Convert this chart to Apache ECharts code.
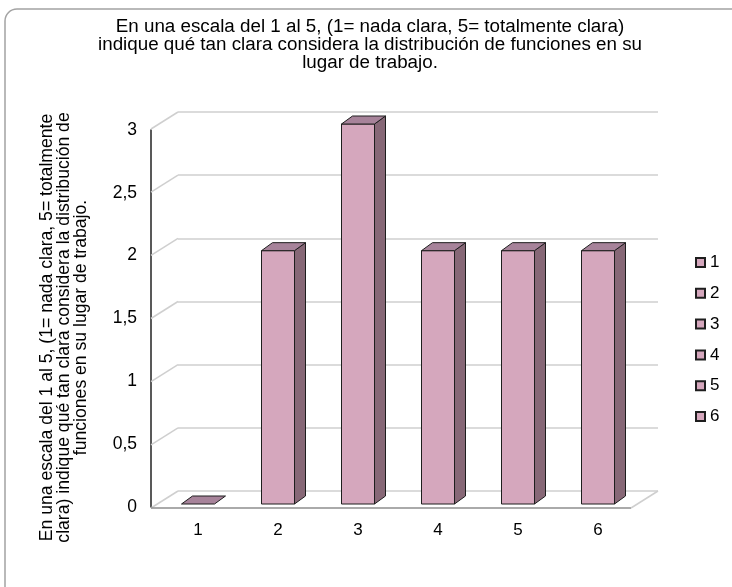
<!DOCTYPE html>
<html>
<head>
<meta charset="utf-8">
<script src="https://cdn.jsdelivr.net/npm/echarts@6/dist/echarts.min.js"></script>
<style>
  html, body { margin: 0; padding: 0; background: #fff; }
  #chart { width: 732px; height: 587px; }
</style>
</head>
<body>
<div id="chart"></div>
<script>
// Chart text and data
const titleLines = [
  'En una escala del 1 al 5, (1= nada clara, 5= totalmente clara)',
  'indique qué tan clara considera la distribución de funciones en su',
  'lugar de trabajo.'
];
const axisNameLines = [
  'En una escala del 1 al 5, (1= nada clara, 5= totalmente',
  'clara) indique qué tan clara considera la distribución de',
  'funciones en su lugar de trabajo.'
];
const categories = ['1', '2', '3', '4', '5', '6'];
const values = [0, 2, 3, 2, 2, 2];
const yTicks = [0, 0.5, 1, 1.5, 2, 2.5, 3];

// Styling
const FONT = '"Liberation Sans", Arial, sans-serif';
const FACE = '#d5a7bd', SIDE = '#876877', TOP = '#a7839a', EDGE = '#1e1e1e';
const BAR_W = 33;
const DEPTH_X = 11, DEPTH_Y = 8;   // extrusion of each column
const WALL_X = 27, WALL_Y = 17;    // depth of the floor and side wall
const GRID_COLOR = '#cfcfcf';

// One extruded column: front face, right side and top
function renderColumn(params, api) {
  const x = api.value(0), v = api.value(1);
  const base = api.coord([x, 0]);
  const top = api.coord([x, v]);
  const l = base[0] - BAR_W / 2, r = base[0] + BAR_W / 2;
  const children = [];
  if (v > 0) {
    children.push({
      type: 'rect',
      shape: { x: l, y: top[1], width: BAR_W, height: base[1] - top[1] },
      style: { fill: FACE, stroke: EDGE, lineWidth: 1 }
    });
    children.push({
      type: 'polygon',
      shape: { points: [[r, base[1]], [r, top[1]], [r + DEPTH_X, top[1] - DEPTH_Y], [r + DEPTH_X, base[1] - DEPTH_Y]] },
      style: { fill: SIDE, stroke: EDGE, lineWidth: 1 }
    });
  }
  children.push({
    type: 'polygon',
    shape: { points: [[l, top[1]], [r, top[1]], [r + DEPTH_X, top[1] - DEPTH_Y], [l + DEPTH_X, top[1] - DEPTH_Y]] },
    style: { fill: TOP, stroke: EDGE, lineWidth: 1 }
  });
  return { type: 'group', children };
}

// Side wall diagonals at each tick, plus the floor's front and right edges
function renderWalls(params, api) {
  const v = api.value(0);
  const p = api.coord([0, v]);
  const children = [{
    type: 'line',
    shape: { x1: p[0] - WALL_X, y1: p[1] + WALL_Y, x2: p[0], y2: p[1] },
    style: { stroke: GRID_COLOR, lineWidth: 1.5 }
  }];
  if (v === 0) {
    const q = api.coord([1, 0]);
    children.push({
      type: 'line',
      shape: { x1: p[0] - WALL_X, y1: p[1] + WALL_Y, x2: q[0] - WALL_X, y2: q[1] + WALL_Y },
      style: { stroke: '#8e8e8e', lineWidth: 1.5 }
    });
    children.push({
      type: 'line',
      shape: { x1: q[0] - WALL_X, y1: q[1] + WALL_Y, x2: q[0], y2: q[1] },
      style: { stroke: GRID_COLOR, lineWidth: 1.5 }
    });
  }
  return { type: 'group', children };
}

const columnSeries = categories.map((name, i) => ({
  type: 'custom',
  name: name,
  xAxisIndex: 2,
  yAxisIndex: 2,
  renderItem: renderColumn,
  encode: { x: 0, y: 1 },
  itemStyle: { color: FACE, borderColor: EDGE, borderWidth: 1 },
  data: [[i, values[i]]],
  z: 5
}));

const chart = echarts.init(document.getElementById('chart'));
chart.setOption({
  backgroundColor: '#fff',
  animation: false,
  textStyle: { fontFamily: FONT },
  title: {
    text: titleLines.join('\n'),
    left: 370,
    textAlign: 'center',
    top: 18,
    padding: 0,
    textStyle: { fontFamily: FONT, fontSize: 18.8, fontWeight: 'normal', color: '#000', lineHeight: 18 }
  },
  legend: {
    orient: 'vertical',
    left: 695,
    top: 254,
    padding: 0,
    itemGap: 13.8,
    itemWidth: 9,
    itemHeight: 9,
    icon: 'rect',
    data: categories,
    textStyle: { fontFamily: FONT, fontSize: 17, color: '#000', lineHeight: 16 }
  },
  graphic: [{
    type: 'rect',
    shape: { x: 5, y: 9, width: 740, height: 590, r: 12 },
    style: { fill: 'none', stroke: '#a3a3a3', lineWidth: 1.5 },
    z: -10,
    silent: true
  }],
  grid: [
    { left: 178, top: 112, width: 480, height: 379 },  // back wall
    { left: 151, top: 130, width: 481, height: 377 },  // front value axis
    { left: 158, top: 124, width: 480, height: 380 }   // columns
  ],
  xAxis: [
    { gridIndex: 0, type: 'value', min: 0, max: 1, show: false },
    { gridIndex: 1, type: 'category', data: categories, show: false },
    {
      gridIndex: 2, type: 'category', data: categories,
      axisLine: { show: false }, axisTick: { show: false },
      axisLabel: { fontFamily: FONT, fontSize: 17, color: '#000', margin: 18 }
    }
  ],
  yAxis: [
    {
      gridIndex: 0, type: 'value', min: 0, max: 3, interval: 0.5,
      axisLine: { show: false }, axisTick: { show: false }, axisLabel: { show: false },
      splitLine: { lineStyle: { color: GRID_COLOR, width: 1.5 } }
    },
    {
      gridIndex: 1, type: 'value', min: 0, max: 3, interval: 0.5,
      axisLine: { show: true, lineStyle: { color: '#222', width: 1.5 } },
      axisTick: { show: false },
      splitLine: { show: false },
      axisLabel: {
        fontFamily: FONT, fontSize: 17.5, color: '#000', margin: 14,
        formatter: v => String(v).replace('.', ',')
      },
      name: axisNameLines.join('\n'),
      nameLocation: 'middle',
      nameRotate: 90,
      nameGap: 61,
      nameTextStyle: { fontFamily: FONT, fontSize: 17.6, color: '#000', lineHeight: 17, padding: [0, 18, 0, 0] }
    },
    { gridIndex: 2, type: 'value', min: 0, max: 3, show: false }
  ],
  series: [
    {
      type: 'custom',
      name: 'walls',
      xAxisIndex: 0,
      yAxisIndex: 0,
      renderItem: renderWalls,
      encode: { y: 0 },
      data: yTicks.map(v => [v]),
      silent: true,
      z: 1
    }
  ].concat(columnSeries)
});
</script>
</body>
</html>
